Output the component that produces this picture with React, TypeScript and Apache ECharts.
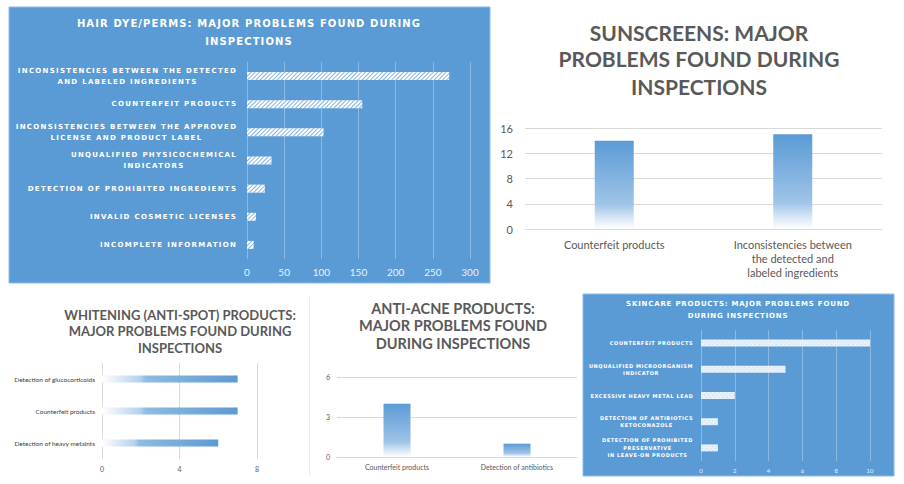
import React, { useEffect, useRef } from 'react';
import * as echarts from 'echarts';

// ---------- DATA ----------
const hairCategories = [
  'INCONSISTENCIES BETWEEN THE DETECTED\nAND LABELED INGREDIENTS',
  'COUNTERFEIT PRODUCTS',
  'INCONSISTENCIES BETWEEN THE APPROVED\nLICENSE AND PRODUCT LABEL',
  'UNQUALIFIED PHYSICOCHEMICAL\nINDICATORS',
  'DETECTION OF PROHIBITED INGREDIENTS',
  'INVALID COSMETIC LICENSES',
  'INCOMPLETE INFORMATION',
];
const hairValues = [272, 155, 103, 33, 24, 12, 9];
const hairTicks = { min: 0, max: 300, interval: 50 };

const sunCategories = ['Counterfeit products', 'Inconsistencies between\nthe detected and\nlabeled ingredients'];
const sunValues = [14, 15];
const sunTicks = { min: 0, max: 16, interval: 4 };

const whiteCategories = ['Detection of glucocorticoids', 'Counterfeit products', 'Detection of heavy metalnts'];
const whiteValues = [7, 7, 6];
const whiteTicks = { min: 0, max: 8, interval: 4 };

const acneCategories = ['Counterfeit products', 'Detection of antibiotics'];
const acneValues = [4, 1];
const acneTicks = { min: 0, max: 6, interval: 3 };

const skinCategories = [
  'COUNTERFEIT PRODUCTS',
  'UNQUALIFIED MICROORGANISM\nINDICATOR',
  'EXCESSIVE HEAVY METAL LEAD',
  'DETECTION OF ANTIBIOTICS\nKETOCONAZOLE',
  'DETECTION OF PROHIBITED\nPRESERVATIVE\nIN LEAVE-ON PRODUCTS',
];
const skinValues = [10, 5, 2, 1, 1];
const skinTicks = { min: 0, max: 10, interval: 2 };

const hairTitle = ['HAIR DYE/PERMS: MAJOR PROBLEMS FOUND DURING', 'INSPECTIONS'];
const sunTitle = ['SUNSCREENS: MAJOR', 'PROBLEMS FOUND DURING', 'INSPECTIONS'];
const whiteTitle = ['WHITENING (ANTI-SPOT) PRODUCTS:', 'MAJOR PROBLEMS FOUND DURING', 'INSPECTIONS'];
const acneTitle = ['ANTI-ACNE PRODUCTS:', 'MAJOR PROBLEMS FOUND', 'DURING INSPECTIONS'];
const skinTitle = ['SKINCARE PRODUCTS: MAJOR PROBLEMS FOUND', 'DURING INSPECTIONS'];

// ---------- STYLE ----------
const BLUE = '#5b9bd5';
const GRAY = '#595959';
const DV = '"DejaVu Sans"';
const LATO = 'Lato, "Open Sans", sans-serif';

// tracked text colours (used by CSS letter-spacing selectors)
const T_HAIR_LABEL = '#fffffe';
const T_HAIR_TITLE = '#fffffc';
const T_SKIN_LABEL = '#fffffd';
const T_SKIN_TITLE = '#fffffb';
const SP_HAIR_LABEL = 1.3;
const SP_HAIR_TITLE = 1.1;
const SP_SKIN_LABEL = 0.6;
const SP_SKIN_TITLE = 0.8;

let measureCtx: CanvasRenderingContext2D | null = null;
function measure(text: string, font: string, spacing: number) {
  if (!measureCtx) measureCtx = document.createElement('canvas').getContext('2d');
  measureCtx!.font = font;
  return measureCtx!.measureText(text).width + spacing * text.length;
}

function trackedLabels(cats: string[], key: string, size: number, weight: string, spacing: number, color: string, lineHeight: number) {
  const font = `${weight} ${size}px ${DV}`;
  const rich: Record<string, any> = {};
  cats.forEach((c, i) => {
    const w = Math.max(...c.split('\n').map((l) => measure(l, font, spacing)));
    rich[key + i] = {
      width: Math.ceil(w) + 1,
      align: 'center',
      fontSize: size,
      fontWeight: weight,
      fontFamily: 'DejaVu Sans',
      color,
      lineHeight,
    };
  });
  return {
    interval: 0,
    rich,
    formatter: (value: string) => {
      const i = cats.indexOf(value);
      return value
        .split('\n')
        .map((l) => `{${key}${i}|${l}}`)
        .join('\n');
    },
  };
}

function titleTexts(lines: string[], cx: number, ys: number[], font: string, fill: string) {
  return lines.map((t, i) => ({
    type: 'text',
    x: cx,
    y: ys[i],
    z: 10,
    style: { text: t, font, fill, textAlign: 'center', verticalAlign: 'middle', textVerticalAlign: 'middle' },
  }));
}

const vGrad = (stops: [number, string][]) => ({
  type: 'linear', x: 0, y: 0, x2: 0, y2: 1,
  colorStops: stops.map(([offset, color]) => ({ offset, color })),
});
const hGrad = (stops: [number, string][]) => ({
  type: 'linear', x: 0, y: 0, x2: 1, y2: 0,
  colorStops: stops.map(([offset, color]) => ({ offset, color })),
});

function buildOption() {
  const lightSplit = { show: true, lineStyle: { color: '#d9d9d9', width: 1 } };
  const whiteSplit = { show: true, lineStyle: { color: 'rgba(255,255,255,0.3)', width: 1 } };
  const none = { show: false };

  return {
    animation: false,
    backgroundColor: '#ffffff',
    grid: [
      { left: 247, top: 62, width: 223, height: 197 },
      { left: 525, top: 128, width: 357, height: 101 },
      { left: 102, top: 363, width: 155, height: 96 },
      { left: 337, top: 377, width: 240, height: 80 },
      { left: 701, top: 330, width: 169, height: 131 },
    ],
    xAxis: [
      {
        gridIndex: 0, type: 'value', ...hairTicks,
        splitLine: whiteSplit, axisLine: none, axisTick: none,
        axisLabel: { color: '#e8f0f9', fontSize: 10, fontFamily: LATO, margin: 8 },
      },
      {
        gridIndex: 1, type: 'category', data: sunCategories,
        axisLine: { show: true, lineStyle: { color: '#d9d9d9' } }, axisTick: none,
        axisLabel: { color: GRAY, fontSize: 11, fontFamily: LATO, lineHeight: 14, margin: 8, interval: 0 },
      },
      {
        gridIndex: 2, type: 'value', ...whiteTicks,
        splitLine: lightSplit, axisLine: none, axisTick: none,
        axisLabel: { color: GRAY, fontSize: 7, fontFamily: LATO, margin: 6 },
      },
      {
        gridIndex: 3, type: 'category', data: acneCategories,
        axisLine: { show: true, lineStyle: { color: '#d9d9d9' } }, axisTick: none,
        axisLabel: { color: GRAY, fontSize: 7, fontFamily: LATO, margin: 6, interval: 0 },
      },
      {
        gridIndex: 4, type: 'value', ...skinTicks,
        splitLine: whiteSplit, axisLine: none, axisTick: none,
        axisLabel: { color: '#e8f0f9', fontSize: 6, fontFamily: LATO, margin: 6 },
      },
    ],
    yAxis: [
      {
        gridIndex: 0, type: 'category', data: hairCategories, inverse: true,
        axisLine: none, axisTick: none,
        axisLabel: { margin: 9, ...trackedLabels(hairCategories, 'h', 7, 'bold', SP_HAIR_LABEL, T_HAIR_LABEL, 11) },
      },
      {
        gridIndex: 1, type: 'value', ...sunTicks,
        splitLine: lightSplit, axisLine: none, axisTick: none,
        axisLabel: { color: GRAY, fontSize: 11, fontFamily: LATO, margin: 12 },
      },
      {
        gridIndex: 2, type: 'category', data: whiteCategories, inverse: true,
        axisLine: none, axisTick: none,
        axisLabel: { color: '#404040', fontSize: 6.5, fontFamily: LATO, margin: 7, interval: 0 },
      },
      {
        gridIndex: 3, type: 'value', ...acneTicks,
        splitLine: lightSplit, axisLine: none, axisTick: none,
        axisLabel: { color: GRAY, fontSize: 7, fontFamily: LATO, margin: 7 },
      },
      {
        gridIndex: 4, type: 'category', data: skinCategories, inverse: true,
        axisLine: none, axisTick: none,
        axisLabel: { margin: 7, ...trackedLabels(skinCategories, 's', 5, 'bold', SP_SKIN_LABEL, T_SKIN_LABEL, 7.5) },
      },
    ],
    series: [
      {
        type: 'bar', xAxisIndex: 0, yAxisIndex: 0, data: hairValues, barWidth: 8,
        itemStyle: {
          color: '#ffffff',
          decal: {
            symbol: 'rect', symbolSize: 1, dashArrayX: [1, 0], dashArrayY: [1, 2],
            rotation: -Math.PI / 4, color: 'rgba(91,155,213,0.75)',
          },
        },
      },
      {
        type: 'bar', xAxisIndex: 1, yAxisIndex: 1, data: sunValues, barWidth: 39,
        itemStyle: { color: vGrad([[0, '#5b9bd5'], [0.72, '#9fc4e8'], [0.85, '#cfe1f4'], [1, '#ffffff']]) },
      },
      {
        type: 'bar', xAxisIndex: 2, yAxisIndex: 2, data: whiteValues, barWidth: 7,
        itemStyle: { color: hGrad([[0, '#ffffff'], [0.28, '#b5d1ee'], [0.32, '#8fbbe4'], [1, '#5b9bd5']]) },
      },
      {
        type: 'bar', xAxisIndex: 3, yAxisIndex: 3, data: acneValues, barWidth: 27,
        itemStyle: { color: vGrad([[0, '#5b9bd5'], [0.72, '#9fc4e8'], [0.85, '#cfe1f4'], [1, '#ffffff']]) },
      },
      {
        type: 'bar', xAxisIndex: 4, yAxisIndex: 4, data: skinValues, barWidth: 7,
        itemStyle: {
          color: '#e9f1f9',
          decal: {
            symbol: 'rect', symbolSize: 1, dashArrayX: [1, 2], dashArrayY: [1, 2],
            rotation: Math.PI / 4, color: 'rgba(91,155,213,0.3)',
          },
        },
      },
    ],
    graphic: [
      { type: 'rect', z: -10, shape: { x: 9, y: 7, width: 481, height: 276 }, style: { fill: BLUE, stroke: '#8dbbe6', lineWidth: 1 } },
      { type: 'rect', z: -10, shape: { x: 583, y: 294, width: 311, height: 182 }, style: { fill: BLUE, stroke: '#8dbbe6', lineWidth: 1 } },
      { type: 'line', z: -10, shape: { x1: 309.5, y1: 297, x2: 309.5, y2: 476 }, style: { stroke: '#ececec', lineWidth: 1 } },
      ...titleTexts(hairTitle, 249, [23, 41], `bold 10px ${DV}`, T_HAIR_TITLE),
      ...titleTexts(sunTitle, 699, [32, 58, 86], `bold 21px ${LATO}`, GRAY),
      ...titleTexts(whiteTitle, 180, [315, 331, 348], `bold 13px ${LATO}`, GRAY),
      ...titleTexts(acneTitle, 453, [308, 325, 343], `bold 14.5px ${LATO}`, GRAY),
      ...titleTexts(skinTitle, 738, [304, 316], `bold 7px ${DV}`, T_SKIN_TITLE),
    ],
  };
}

const css = `
body { margin: 0; }
[fill="${T_HAIR_LABEL}"] { letter-spacing: ${SP_HAIR_LABEL}px; }
[fill="${T_HAIR_TITLE}"] { letter-spacing: ${SP_HAIR_TITLE}px; }
[fill="${T_SKIN_LABEL}"] { letter-spacing: ${SP_SKIN_LABEL}px; }
[fill="${T_SKIN_TITLE}"] { letter-spacing: ${SP_SKIN_TITLE}px; }
`;

export default function App() {
  const ref = useRef<HTMLDivElement>(null);
  useEffect(() => {
    if (!ref.current) return;
    const chart = echarts.init(ref.current, null, { renderer: 'svg' });
    chart.setOption(buildOption() as any);
    return () => chart.dispose();
  }, []);
  return (
    <>
      <style>{css}</style>
      <div ref={ref} style={{ position: 'absolute', left: 0, top: 0, width: 904, height: 484 }} />
    </>
  );
}
